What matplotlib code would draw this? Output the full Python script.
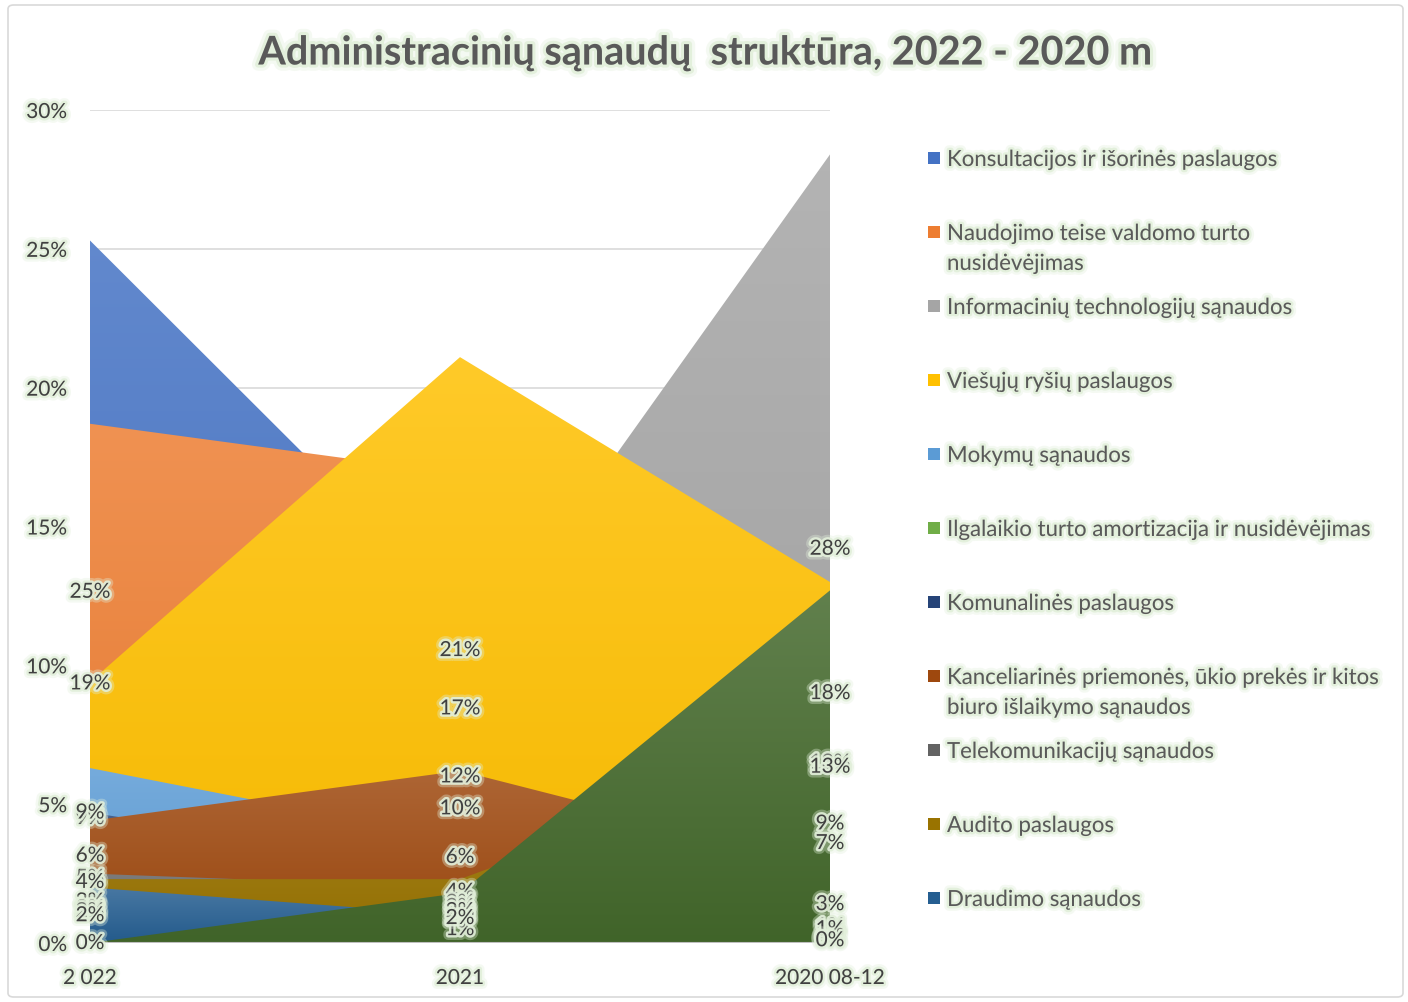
# Administracinių sąnaudų struktūra - overlapping area chart (Excel style)
import numpy as np
import matplotlib
matplotlib.use("Agg")
import matplotlib.pyplot as plt
import matplotlib.patheffects as pe
from matplotlib.colors import LinearSegmentedColormap, to_rgb
from matplotlib.patches import Polygon, Rectangle, FancyBboxPatch

plt.rcParams['font.family'] = ['Lato', 'DejaVu Sans']

categories = ["2 022", "2021", "2020 08-12"]

# values in %, series order = draw order
konsultacijos = [25.3, 12.0, 18.0]
naudojimo = [18.7, 16.9, 8.6]
it_sanaudos = [9.0, 9.7, 28.4]
viesuju_rysiu = [9.4, 21.1, 13.0]
mokymu = [6.3, 3.7, 1.2]
ilgalaikio = [3.0, 2.9, 0.8]
komunalines = [4.7, 2.6, 0.3]
kanceliarines = [4.4, 6.2, 2.8]
telekomunikaciju = [2.5, 2.0, 1.0]
audito = [2.3, 2.3, 7.2]
draudimo = [2.0, 1.0, 0.2]
kita = [0.0, 1.8, 12.7]   # 12th series, no legend entry

names = ["Konsultacijos ir išorinės paslaugos",
         "Naudojimo teise valdomo turto\nnusidėvėjimas",
         "Informacinių technologijų sąnaudos",
         "Viešųjų ryšių paslaugos",
         "Mokymų sąnaudos",
         "Ilgalaikio turto amortizacija ir nusidėvėjimas",
         "Komunalinės paslaugos",
         "Kanceliarinės priemonės, ūkio prekės ir kitos\nbiuro išlaikymo sąnaudos",
         "Telekomunikacijų sąnaudos",
         "Audito paslaugos",
         "Draudimo sąnaudos",
         None]
series = [konsultacijos, naudojimo, it_sanaudos, viesuju_rysiu, mokymu, ilgalaikio,
          komunalines, kanceliarines, telekomunikaciju, audito, draudimo, kita]
colors = ["#4472C4", "#ED7D31", "#A5A5A5", "#FFC000", "#5B9BD5", "#70AD47",
          "#264478", "#9E480E", "#636363", "#997300", "#255E91", "#43682B"]

W, H = 1408, 1002
fig = plt.figure(figsize=(W / 100, H / 100), dpi=100)

# chart border
fig.patches.append(FancyBboxPatch((8 / W, 5 / H), 1395 / W, 992 / H,
                                  boxstyle="round,pad=0,rounding_size=0.004",
                                  transform=fig.transFigure, fc="white",
                                  ec="#D9D9D9", lw=1.2, zorder=-10))

ax = fig.add_axes([90 / W, (H - 943) / H, 740 / W, 833 / H])
ax.set_facecolor("none")
x = np.arange(len(categories))

# soft light-green glow behind text
glow = [pe.withStroke(linewidth=7, foreground="#E2EFDA", alpha=0.35),
        pe.withStroke(linewidth=3.5, foreground="#E2EFDA", alpha=0.9)]
txt_col = "#404040"


def blend(c, other, t):
    a = np.array(to_rgb(c))
    b = np.array(to_rgb(other))
    return tuple(a * (1 - t) + b * t)


grad = np.linspace(0, 1, 256).reshape(-1, 1)
for i, (vals, c) in enumerate(zip(series, colors)):
    z = 2 + i
    top = max(vals)
    verts = [(x[0], 0)] + list(zip(x, vals)) + [(x[-1], 0)]
    poly = Polygon(verts, closed=True, fc="none", ec="none", transform=ax.transData)
    ax.add_patch(poly)
    cmap = LinearSegmentedColormap.from_list("g", [blend(c, "black", 0.04),
                                                   blend(c, "white", 0.16)])
    im = ax.imshow(grad, extent=[x[0], x[-1], 0, top], origin="lower",
                   aspect="auto", cmap=cmap, zorder=z, interpolation="bilinear")
    im.set_clip_path(poly)

# data labels sit at half of the value (Excel area chart)
for vals in series:
    for xi, v in zip(x, vals):
        ax.text(xi, v / 2, f"{v:.0f}%", ha="center", va="center", fontsize=15,
                color=txt_col, path_effects=glow, zorder=30, clip_on=False)

ax.set_xlim(0, 2)
ax.set_ylim(0, 30)
ax.set_yticks(np.arange(0, 31, 5))
ax.set_yticklabels([f"{t}%" for t in range(0, 31, 5)])
ax.set_xticks(x)
ax.set_xticklabels(categories)
ax.grid(axis="y", color="#D9D9D9", lw=1.2, zorder=0)
ax.set_axisbelow(True)
for s in ax.spines.values():
    s.set_visible(False)
ax.axhline(0, color="#BFBFBF", lw=1.5, zorder=25)
ax.tick_params(axis="y", length=0, pad=16.5, labelsize=15, labelcolor=txt_col)
ax.tick_params(axis="x", length=0, pad=18, labelsize=15, labelcolor=txt_col)
for lab in ax.get_xticklabels() + ax.get_yticklabels():
    lab.set_path_effects(glow)

fig.text(706 / W, 1 - 53 / H, "Administracinių sąnaudų  struktūra, 2022 - 2020 m",
         ha="center", va="center", fontsize=28.5, fontweight="bold", color="#595959",
         path_effects=[pe.withStroke(linewidth=9, foreground="#E2EFDA", alpha=0.35),
                       pe.withStroke(linewidth=4.5, foreground="#E2EFDA", alpha=0.9)])

# legend, one entry every 74 px
leg_y = 158
for name, c in zip(names, colors):
    if name is None:
        continue
    fig.patches.append(Rectangle((928 / W, 1 - (leg_y + 6) / H), 12 / W, 12 / H,
                                 transform=fig.transFigure, fc=c, ec="none"))
    fig.text(947 / W, 1 - (leg_y - 8) / H, name, ha="left", va="top",
             fontsize=16, color="#595959", linespacing=1.62, path_effects=glow)
    leg_y += 74

fig.savefig("out.png", dpi=100)
